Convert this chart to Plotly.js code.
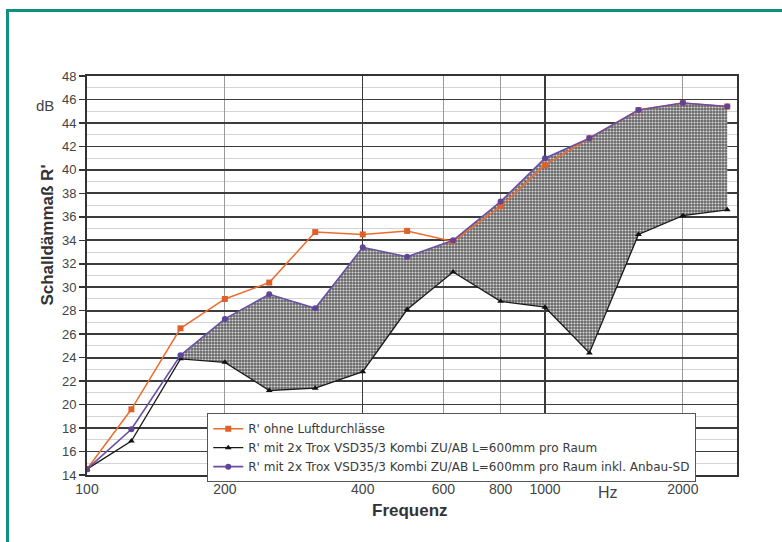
<!DOCTYPE html>
<html>
<head>
<meta charset="utf-8">
<script src="https://cdn.plot.ly/plotly-3.0.1.min.js"></script>
<style>
  html, body { margin: 0; padding: 0; background: #fff; }
  #chart { position: absolute; left: 0; top: 0; width: 782px; height: 542px; }
  #frame { position: absolute; left: 6px; top: 9px; width: 790px; height: 560px;
           border-top: 3px solid #12907f; border-left: 3px solid #12907f; pointer-events: none; }
</style>
</head>
<body>
<div id="chart"></div>
<div id="frame"></div>
<script>
// Third-octave band centre frequencies (Hz)
const freq = [100, 125, 160, 200, 250, 315, 400, 500, 630, 800, 1000, 1250, 1600, 2000, 2500];

// R' ohne Luftdurchlässe
const rOhne = [14.5, 19.6, 26.5, 29.0, 30.4, 34.7, 34.5, 34.8, 33.9, 36.9, 40.4, 42.7, 45.1, 45.7, 45.4];
// R' mit 2x Trox VSD35/3 Kombi ZU/AB L=600mm pro Raum
const rTrox = [14.5, 16.9, 23.9, 23.6, 21.2, 21.4, 22.8, 28.1, 31.3, 28.8, 28.3, 24.4, 34.5, 36.1, 36.6];
// R' mit 2x Trox ... inkl. Anbau-SD
const rAnbau = [14.5, 17.9, 24.2, 27.3, 29.4, 28.2, 33.4, 32.6, 34.0, 37.3, 41.0, 42.7, 45.1, 45.7, 45.4];

const seriesNames = [
  "R' ohne Luftdurchlässe",
  "R' mit 2x Trox VSD35/3 Kombi ZU/AB L=600mm pro Raum",
  "R' mit 2x Trox VSD35/3 Kombi ZU/AB L=600mm pro Raum inkl. Anbau-SD"
];

const xTicks = [100, 200, 400, 600, 800, 1000, 2000];
const xTickText = ["100", "200", "400", "600", "800", "1000", "2000"];
const xDarkGrid = [400, 1000];
const yTicks = [14, 16, 18, 20, 22, 24, 26, 28, 30, 32, 34, 36, 38, 40, 42, 44, 46, 48];

const fillStart = 2; // shaded band starts at 160 Hz

const traces = [
  {
    x: freq.slice(fillStart), y: rTrox.slice(fillStart), xaxis: 'x', yaxis: 'y',
    mode: 'lines', line: {width: 0, color: 'rgba(0,0,0,0)'}, showlegend: false, hoverinfo: 'skip'
  },
  {
    x: freq.slice(fillStart), y: rAnbau.slice(fillStart), xaxis: 'x', yaxis: 'y',
    mode: 'lines', line: {width: 0, color: 'rgba(0,0,0,0)'}, fill: 'tonexty',
    fillcolor: '#6e6e6e',
    fillpattern: {shape: '.', bgcolor: '#666666', fgcolor: '#d8d8d8', size: 3, solidity: 0.4},
    showlegend: false, hoverinfo: 'skip'
  },
  {
    x: freq, y: rOhne, name: seriesNames[0], mode: 'lines+markers',
    line: {color: '#ec6b2d', width: 1.5},
    marker: {symbol: 'square', size: 6, color: '#e0602a'}
  },
  {
    x: freq, y: rTrox, name: seriesNames[1], mode: 'lines+markers',
    line: {color: '#1a1a1a', width: 1.3},
    marker: {symbol: 'triangle-up', size: 6, color: '#111'}
  },
  {
    x: freq, y: rAnbau, name: seriesNames[2], mode: 'lines+markers',
    line: {color: '#6a4fa3', width: 1.6},
    marker: {symbol: 'circle', size: 6, color: '#5e4598'}
  },
  {
    // invisible carrier for the darker vertical grid lines
    x: [freq[0]], y: [rTrox[0]], xaxis: 'x2', yaxis: 'y',
    mode: 'markers', marker: {opacity: 0}, showlegend: false, hoverinfo: 'skip'
  }
];

const xRange = [2, 3.4192];

const layout = {
  width: 782, height: 542,
  margin: {l: 87, r: 45, t: 76, b: 67},
  paper_bgcolor: '#ffffff',
  plot_bgcolor: '#ffffff',
  font: {family: 'Liberation Sans, Arial, sans-serif', color: '#444'},
  showlegend: true,
  legend: {
    x: 0.185, y: 0.155, xanchor: 'left', yanchor: 'top',
    traceorder: 'normal',
    bgcolor: '#ffffff', bordercolor: '#555', borderwidth: 1,
    font: {size: 12, color: '#3a3a3a', family: 'DejaVu Sans, sans-serif'},
    tracegroupgap: 0, itemwidth: 30
  },
  xaxis: {
    type: 'log', range: xRange,
    tickmode: 'array', tickvals: xTicks, ticktext: xTickText,
    tickfont: {size: 14, color: '#444'},
    ticks: 'inside', ticklen: 4, tickcolor: '#333',
    showgrid: true, gridcolor: '#9a9a9a', gridwidth: 1,
    showline: true, linecolor: '#333', linewidth: 2, mirror: true,
    zeroline: false, ticklabelstandoff: 0
  },
  xaxis2: {
    type: 'log', range: xRange, overlaying: 'x',
    tickmode: 'array', tickvals: xDarkGrid, showticklabels: false, ticks: '',
    showgrid: true, gridcolor: '#3a3a3a', gridwidth: 1.3, showline: false, zeroline: false
  },
  yaxis: {
    range: [14, 48],
    tickmode: 'array', tickvals: yTicks,
    tickfont: {size: 13, color: '#444'},
    ticks: 'outside', ticklen: 6, tickcolor: '#333', tickwidth: 1.5,
    showgrid: true, gridcolor: '#3c3c3c', gridwidth: 1.8,
    minor: {dtick: 1, showgrid: true, gridcolor: '#d4d4d4', gridwidth: 1, ticks: ''},
    showline: true, linecolor: '#333', linewidth: 2, mirror: true,
    zeroline: false
  },
  annotations: [
    {text: "Schalldämmaß R'", xref: 'paper', yref: 'paper', x: -0.06, y: 0.6,
     xanchor: 'center', yanchor: 'middle', textangle: -90, showarrow: false,
     font: {size: 17, color: '#333', family: 'Liberation Sans, Arial, sans-serif', weight: 'bold'}},
    {text: 'dB', xref: 'paper', yref: 'paper', x: -0.065, y: 0.925,
     xanchor: 'center', yanchor: 'middle', showarrow: false,
     font: {size: 15, color: '#444'}},
    {text: 'Frequenz', xref: 'paper', yref: 'paper', x: 0.497, y: -0.088,
     xanchor: 'center', yanchor: 'middle', showarrow: false,
     font: {size: 17, color: '#333', weight: 'bold'}},
    {text: 'Hz', xref: 'paper', yref: 'paper', x: 0.802, y: -0.043,
     xanchor: 'center', yanchor: 'middle', showarrow: false,
     font: {size: 16, color: '#444'}}
  ]
};

Plotly.newPlot('chart', traces, layout, {displayModeBar: false, staticPlot: true});
</script>
</body>
</html>
